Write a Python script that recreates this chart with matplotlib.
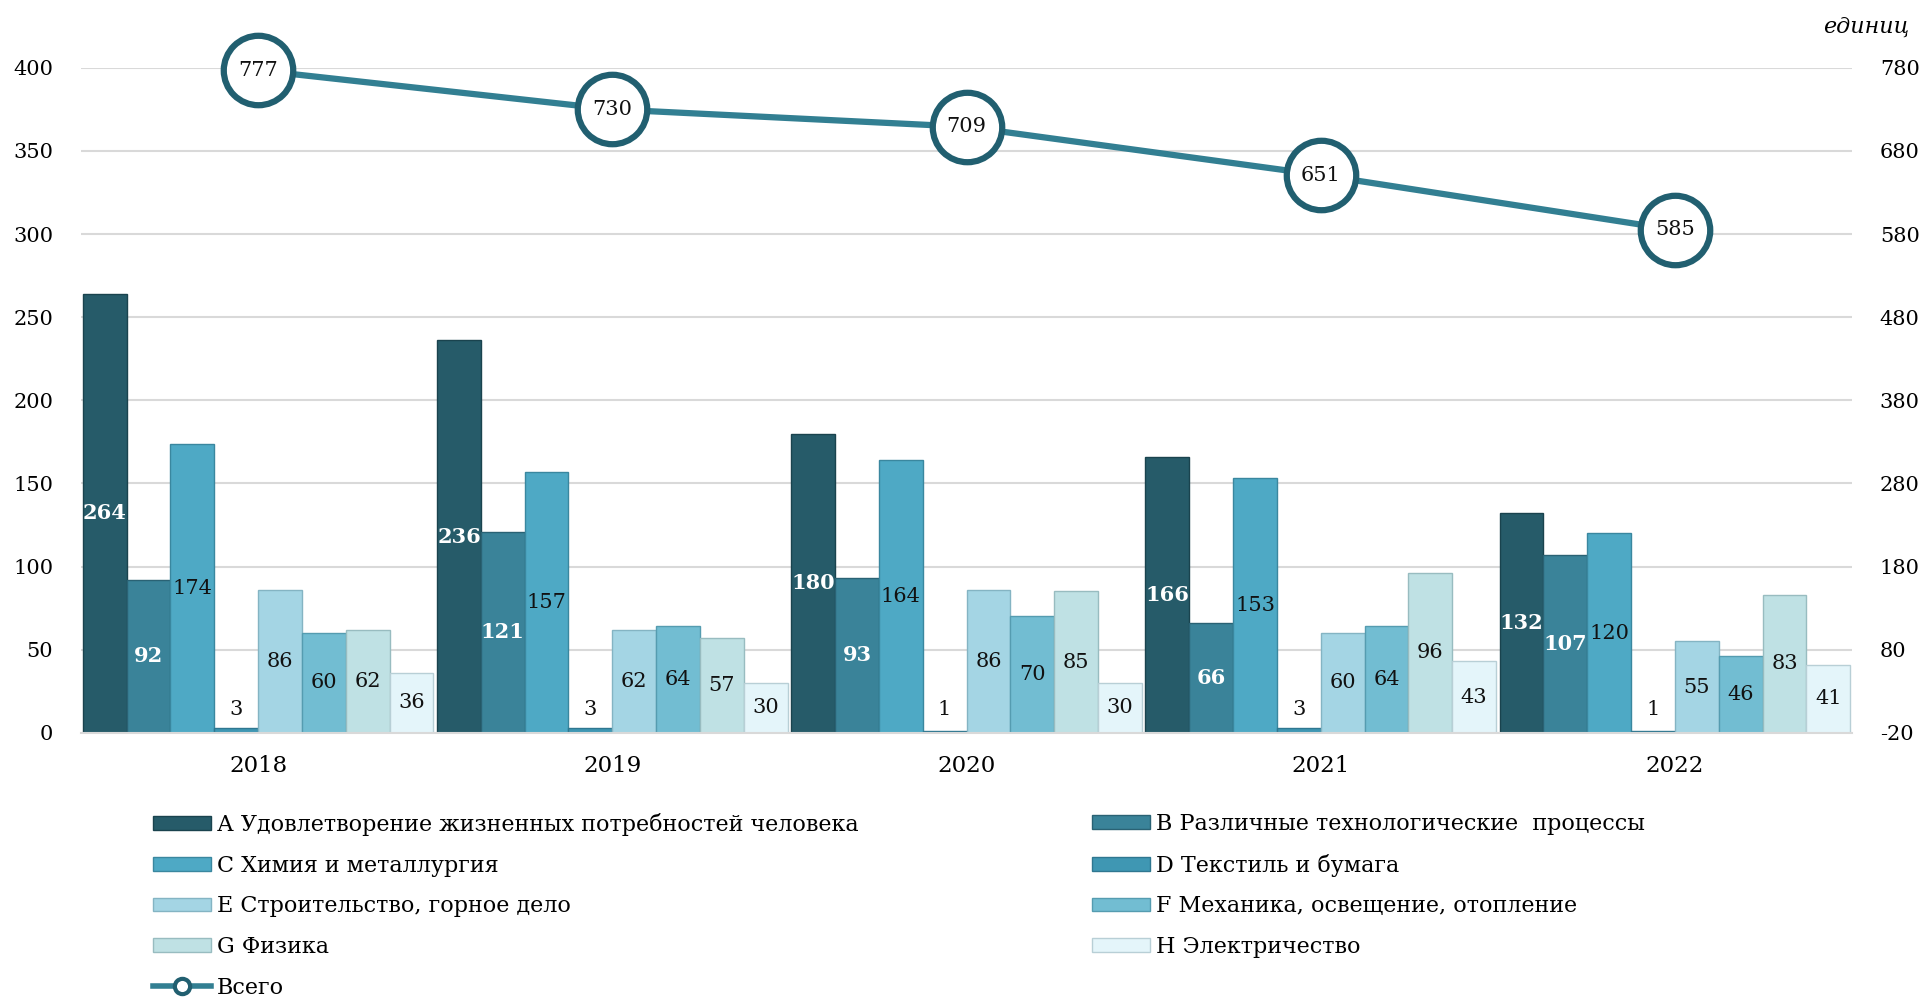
import matplotlib
matplotlib.use("Agg")
import matplotlib.pyplot as plt
import numpy as np
from matplotlib.lines import Line2D
from matplotlib.patches import Patch

years = ["2018", "2019", "2020", "2021", "2022"]
series_names = [
    "А Удовлетворение жизненных потребностей человека",
    "В Различные технологические  процессы",
    "С Химия и металлургия",
    "D Текстиль и бумага",
    "Е Строительство, горное дело",
    "F Механика, освещение, отопление",
    "G Физика",
    "Н Электричество",
]
A = [264, 236, 180, 166, 132]
B = [92, 121, 93, 66, 107]
C = [174, 157, 164, 153, 120]
D = [3, 3, 1, 3, 1]
E = [86, 62, 86, 60, 55]
F = [60, 64, 70, 64, 46]
G = [62, 57, 85, 96, 83]
H = [36, 30, 30, 43, 41]
total = [777, 730, 709, 651, 585]
total_name = "Всего"
unit_label = "единиц"

series = [A, B, C, D, E, F, G, H]
colors = ["#265b69", "#3a8399", "#4ea9c5", "#3f97b3", "#a4d5e4", "#72bdd2", "#bfe1e4", "#e4f5fa"]
edges = ["#1a434e", "#2a6274", "#3a879f", "#2f7790", "#84b4c3", "#559cb0", "#98bcc0", "#b8cfd6"]
label_colors = ["white", "white", "#111111", "#111111", "#111111", "#111111", "#111111", "#111111"]
label_weights = ["bold", "bold", "normal", "normal", "normal", "normal", "normal", "normal"]

FONT = "DejaVu Serif"
plt.rcParams["font.family"] = [FONT, "DejaVu Sans"]
plt.rcParams["axes.unicode_minus"] = False

fig = plt.figure(figsize=(19.28, 9.97), dpi=100)
ax = fig.add_axes([0.042, 0.265, 0.9186, 0.667])
ax2 = ax.twinx()

x = np.arange(len(years))
w = 0.1237
n = len(series)
for i, (vals, col, ec) in enumerate(zip(series, colors, edges)):
    pos = x + (i - (n - 1) / 2) * w
    ax.bar(pos, vals, width=w, color=col, edgecolor=ec, linewidth=1.0, zorder=2)
    for xp, v in zip(pos, vals):
        ax.text(xp, max(v / 2, 14), str(v), ha="center", va="center",
                fontsize=15, color=label_colors[i], fontweight=label_weights[i],
                zorder=5, family=FONT)

ax.set_xlim(-0.5, len(years) - 0.5)
ax.set_ylim(0, 400)
ax.set_yticks(np.arange(0, 401, 50))
ax.set_xticks(x)
ax.set_xticklabels(years)
ax.grid(axis="y", color="#d9d9d9", linewidth=1.5, zorder=0)
ax.set_axisbelow(True)
for s in ["top", "right", "left"]:
    ax.spines[s].set_visible(False)
ax.spines["bottom"].set_color("#d9d9d9")
ax.spines["bottom"].set_linewidth(1.5)
ax.tick_params(axis="y", length=0, labelsize=15, pad=20)
ax.tick_params(axis="x", length=0, labelsize=16.5, pad=16)

ax2.set_ylim(-20, 780)
ax2.set_yticks(np.arange(-20, 781, 100))
for s in ["top", "right", "left", "bottom"]:
    ax2.spines[s].set_visible(False)
ax2.tick_params(axis="y", length=0, labelsize=15, pad=20)
ax2.plot(x, total, color="#327f92", linewidth=4.5, marker="o", markersize=50,
         markerfacecolor="white", markeredgecolor="#215f70", markeredgewidth=4.5,
         zorder=6, clip_on=False)
for xp, v in zip(x, total):
    ax2.text(xp, v, str(v), ha="center", va="center", fontsize=15, color="#111111",
             zorder=7, family=FONT)

fig.text(0.968, 0.973, unit_label, ha="center", va="center", fontsize=16,
         style="italic", family=FONT)

handles = [Patch(facecolor=c, edgecolor=e) for c, e in zip(colors, edges)]
total_handle = Line2D([0], [0], color="#327f92", linewidth=4, marker="o",
                      markersize=11, markerfacecolor="white",
                      markeredgecolor="#215f70", markeredgewidth=3)

col1_h = [handles[0], handles[2], handles[4], handles[6], total_handle]
col1_l = [series_names[0], series_names[2], series_names[4], series_names[6], total_name]
col2_h = [handles[1], handles[3], handles[5], handles[7]]
col2_l = [series_names[1], series_names[3], series_names[5], series_names[7]]

leg_kw = dict(frameon=False, fontsize=16, borderpad=0, borderaxespad=0,
              handlelength=2.6, handleheight=0.55, handletextpad=0.25,
              labelspacing=0.84, loc="upper left")
leg1 = fig.legend(col1_h, col1_l, bbox_to_anchor=(0.0795, 0.1845), **leg_kw)
leg2 = fig.legend(col2_h, col2_l, bbox_to_anchor=(0.5665, 0.1845), **leg_kw)

fig.savefig("out.png", dpi=100)
